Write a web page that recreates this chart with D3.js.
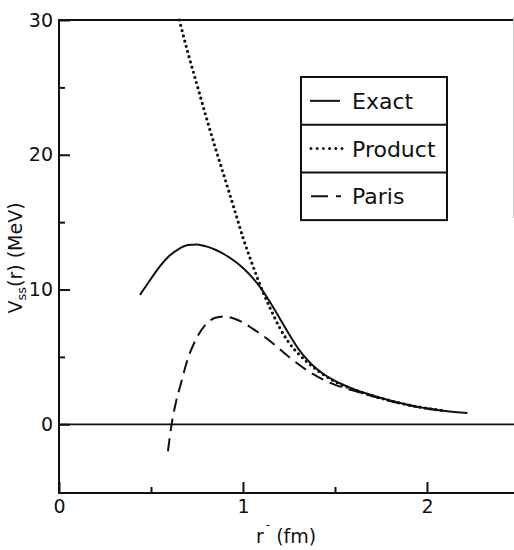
<!DOCTYPE html>
<html>
<head>
<meta charset="utf-8">
<script src="https://cdn.jsdelivr.net/npm/d3@7"></script>
<style>
  html, body { margin: 0; padding: 0; background: #fff; }
  svg { display: block; }
  text { font-family: "DejaVu Sans", sans-serif; fill: #111; }
</style>
</head>
<body>
<svg id="chart" width="514" height="550"></svg>
<script>
// Spin-spin potential V_ss(r) versus r (fm)
const rExact = [0.44, 0.50, 0.55, 0.60, 0.65, 0.70, 0.75, 0.80, 0.85, 0.90, 0.95, 1.00, 1.05, 1.10, 1.15, 1.20, 1.25, 1.30, 1.35, 1.40, 1.45, 1.50, 1.60, 1.70, 1.80, 1.90, 2.00, 2.10, 2.22];
const vExact = [9.6, 10.8, 11.75, 12.5, 13.0, 13.3, 13.35, 13.2, 12.95, 12.6, 12.15, 11.6, 10.9, 10.05, 9.0, 7.85, 6.7, 5.62, 4.78, 4.12, 3.62, 3.22, 2.62, 2.15, 1.76, 1.44, 1.18, 0.99, 0.83];

const rProduct = [0.654, 0.70, 0.75, 0.80, 0.85, 0.90, 0.95, 1.00, 1.05, 1.10, 1.15, 1.20, 1.25, 1.30, 1.35, 1.40, 1.45, 1.50, 1.60, 1.70, 1.80, 1.90, 2.00, 2.10];
const vProduct = [30, 27.6, 25.2, 22.8, 20.5, 18.3, 16.1, 13.85, 11.9, 10.1, 8.55, 7.15, 6.05, 5.25, 4.6, 4.05, 3.57, 3.17, 2.58, 2.13, 1.75, 1.43, 1.18, 0.99];

const rParis = [0.592, 0.612, 0.635, 0.66, 0.70, 0.75, 0.80, 0.85, 0.90, 0.95, 1.00, 1.05, 1.10, 1.15, 1.20, 1.25, 1.30, 1.35, 1.40, 1.45, 1.50, 1.55, 1.60, 1.70, 1.80, 1.90, 2.00, 2.10];
const vParis = [-2.0, 0, 1.6, 2.9, 4.85, 6.45, 7.45, 7.9, 8.0, 7.85, 7.55, 7.12, 6.65, 6.15, 5.58, 5.0, 4.47, 3.98, 3.58, 3.22, 2.93, 2.7, 2.5, 2.1, 1.73, 1.42, 1.17, 0.98];

const seriesNames = ["Exact", "Product", "Paris"];
const xTickValues = [0, 1, 2];
const xMinorTicks = [0.5, 1.5];
const yTickValues = [0, 10, 20, 30];
const yMinorTicks = [5, 15, 25];

const svg = d3.select("#chart");

const x = d3.scaleLinear().domain([0, 2.473]).range([59, 514]);
const y = d3.scaleLinear().domain([0, 30]).range([424.3, 20]);
const yBottom = 493;

const ink = "#111";

// Frame: left axis, top edge, bottom axis, zero line
const frame = svg.append("g").attr("stroke", ink).attr("fill", "none");
frame.append("line").attr("x1", x(0)).attr("x2", x(0)).attr("y1", y(30) - 1).attr("y2", yBottom + 1).attr("stroke-width", 2);
frame.append("line").attr("x1", x(0)).attr("x2", 514).attr("y1", y(30)).attr("y2", y(30)).attr("stroke-width", 2);
frame.append("line").attr("x1", x(0)).attr("x2", 514).attr("y1", yBottom).attr("y2", yBottom).attr("stroke-width", 2);
frame.append("line").attr("x1", x(0)).attr("x2", 514).attr("y1", y(0)).attr("y2", y(0)).attr("stroke-width", 1.8);
frame.append("line").attr("x1", 513.5).attr("x2", 513.5).attr("y1", 17).attr("y2", 218).attr("stroke", "#ccc").attr("stroke-width", 1);

// Y axis: major ticks with labels, minor ticks, all pointing inward
const yAxis = svg.append("g").attr("transform", `translate(${x(0)},0)`)
  .call(d3.axisLeft(y).tickValues(yTickValues).tickSizeInner(-11).tickSizeOuter(0).tickPadding(6).tickFormat(d3.format("d")));
const yMinor = svg.append("g").attr("transform", `translate(${x(0)},0)`)
  .call(d3.axisLeft(y).tickValues(yMinorTicks).tickSizeInner(-6).tickSizeOuter(0).tickFormat(""));

// X axis
const xAxis = svg.append("g").attr("transform", `translate(0,${yBottom})`)
  .call(d3.axisBottom(x).tickValues(xTickValues).tickSizeInner(-11).tickSizeOuter(0).tickPadding(7).tickFormat(d3.format("d")));
const xMinor = svg.append("g").attr("transform", `translate(0,${yBottom})`)
  .call(d3.axisBottom(x).tickValues(xMinorTicks).tickSizeInner(-6).tickSizeOuter(0).tickFormat(""));

[yAxis, yMinor, xAxis, xMinor].forEach(g => {
  g.select(".domain").remove();
  g.selectAll(".tick line").attr("stroke", ink).attr("stroke-width", 2);
  g.selectAll(".tick text").attr("font-size", 19).attr("font-family", "DejaVu Sans, sans-serif").attr("fill", ink);
});

// Curves
const line = d3.line()
  .x(d => x(d[0]))
  .y(d => y(d[1]))
  .curve(d3.curveMonotoneX);

const exactPts = d3.zip(rExact, vExact);
const productPts = d3.zip(rProduct, vProduct);
const parisPts = d3.zip(rParis, vParis);

const plot = svg.append("g").attr("fill", "none").attr("stroke", ink);

plot.append("path").attr("d", line(exactPts)).attr("stroke-width", 2);
plot.append("path").attr("d", line(productPts)).attr("stroke-width", 3.2)
  .attr("stroke-linecap", "round").attr("stroke-dasharray", "0,5.4");
plot.append("path").attr("d", line(parisPts)).attr("stroke-width", 2)
  .attr("stroke-dasharray", "13,7");

// Legend
const lg = svg.append("g");
const lgX0 = 301, lgX1 = 447, lgY0 = 77, rowH = 47.7;
lg.append("rect").attr("x", lgX0).attr("y", lgY0).attr("width", lgX1 - lgX0).attr("height", rowH * 3)
  .attr("fill", "#fff").attr("stroke", ink).attr("stroke-width", 2);
[1, 2].forEach(i => {
  lg.append("line").attr("x1", lgX0).attr("x2", lgX1)
    .attr("y1", lgY0 + rowH * i).attr("y2", lgY0 + rowH * i)
    .attr("stroke", ink).attr("stroke-width", 2);
});
const sampleStyle = [
  { dash: null, width: 2, cap: "butt", x1: 310, x2: 340 },
  { dash: "0,6.2", width: 3, cap: "round", x1: 311, x2: 343 },
  { dash: "17,8,5,100", width: 2, cap: "butt", x1: 311, x2: 342 }
];
seriesNames.forEach((name, i) => {
  const cy = lgY0 + rowH * (i + 0.5);
  const s = sampleStyle[i];
  const l = lg.append("line").attr("x1", s.x1).attr("x2", s.x2).attr("y1", cy).attr("y2", cy)
    .attr("stroke", ink).attr("stroke-width", s.width).attr("stroke-linecap", s.cap);
  if (s.dash) l.attr("stroke-dasharray", s.dash);
  lg.append("text").attr("x", 352).attr("y", cy + 8).attr("font-size", 22).text(name);
});

// Axis titles
const yt = svg.append("text")
  .attr("transform", "translate(22,258) rotate(-90)")
  .attr("text-anchor", "middle")
  .attr("font-size", 19);
yt.append("tspan").text("V");
yt.append("tspan").attr("font-size", 13).attr("dy", 4).text("ss");
yt.append("tspan").attr("dy", -4).text("(r)  (MeV)");

const xt = svg.append("text").attr("x", 256).attr("y", 543).attr("font-size", 19);
xt.append("tspan").text("r");
xt.append("tspan").attr("font-size", 12).attr("dx", 2).attr("dy", -14).text("-");
xt.append("tspan").attr("dy", 14).text(" (fm)");
</script>
</body>
</html>
